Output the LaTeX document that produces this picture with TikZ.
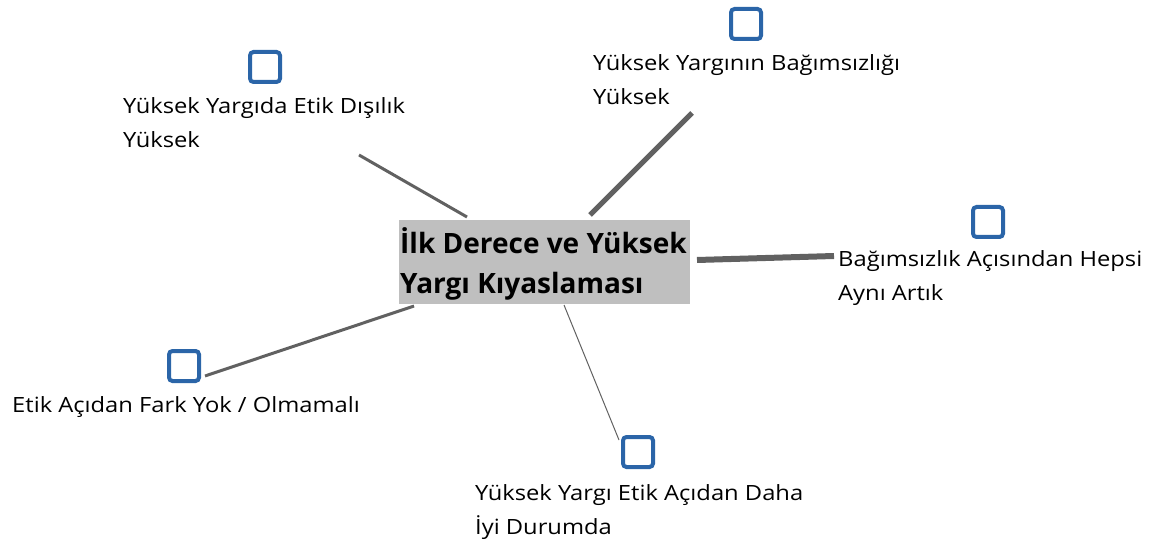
\documentclass[tikz,border=0pt]{standalone}
\usepackage{fontspec}
\setmainfont{Open Sans}
\newfontfamily\lblfont[FakeStretch=1.13]{Open Sans}
\newcommand\topfix[1]{\rule{0pt}{#1}}
\begin{document}
\begin{tikzpicture}[x=1pt,y=-1pt,
  lbl/.style={anchor=north west,inner sep=0pt,align=left,font=\lblfont\fontsize{21}{34}\selectfont},
  sq/.style={draw=boxblue,line width=4pt,rounded corners=3.5pt,minimum width=30pt,minimum height=30pt,inner sep=0pt},
  conn/.style={draw=linegray,line cap=butt}
]
\definecolor{boxblue}{HTML}{2B65A8}
\definecolor{linegray}{HTML}{616161}
\definecolor{centergray}{HTML}{BFBFBF}
\useasboundingbox (0,0) rectangle (1154,540);
% center
\node[fill=centergray,minimum width=291pt,minimum height=83pt,inner sep=0pt] (c) at (544.5,262) {};
\node[anchor=north west,inner sep=0pt,align=left,font=\bfseries\fontsize{28}{40}\selectfont] (ct) at (400,223) {\topfix{30pt}İlk Derece ve Yüksek\\Yargı Kıyaslaması};
% squares
\node[sq] (s1) at (265,67) {};
\node[sq] (s2) at (746,24) {};
\node[sq] (s3) at (988,222) {};
\node[sq] (s4) at (184,366) {};
\node[sq] (s5) at (638,452) {};
% labels (first baseline = top + 22)
\node[lbl] (t1) at (123,91) {\topfix{22pt}Yüksek Yargıda Etik Dışılık\\Yüksek};
\node[lbl] (t2) at (593,48) {\topfix{22pt}Yüksek Yargının Bağımsızlığı\\Yüksek};
\node[lbl] (t3) at (838,244) {\topfix{22pt}Bağımsızlık Açısından Hepsi\\Aynı Artık};
\node[lbl] (t4) at (12,390) {\topfix{22pt}Etik Açıdan Fark Yok / Olmamalı};
\node[lbl] (t5) at (475,478) {\topfix{22pt}Yüksek Yargı Etik Açıdan Daha\\İyi Durumda};
% connector ends
\coordinate (a1) at (467,217); \coordinate (b1) at (359,155);
\coordinate (a2) at (590,215); \coordinate (b2) at (692,113);
\coordinate (a3) at (697,260); \coordinate (b3) at (834,256);
\coordinate (a4) at (414,306); \coordinate (b4) at (205,376);
\coordinate (a5) at (564,305); \coordinate (b5) at (619,440);
\draw[conn,line width=3pt] (a1) -- (b1);
\draw[conn,line width=5pt] (a2) -- (b2);
\draw[conn,line width=6pt] (a3) -- (b3);
\draw[conn,line width=3pt] (a4) -- (b4);
\draw[conn,line width=1pt] (a5) -- (b5);
\end{tikzpicture}
\end{document}
